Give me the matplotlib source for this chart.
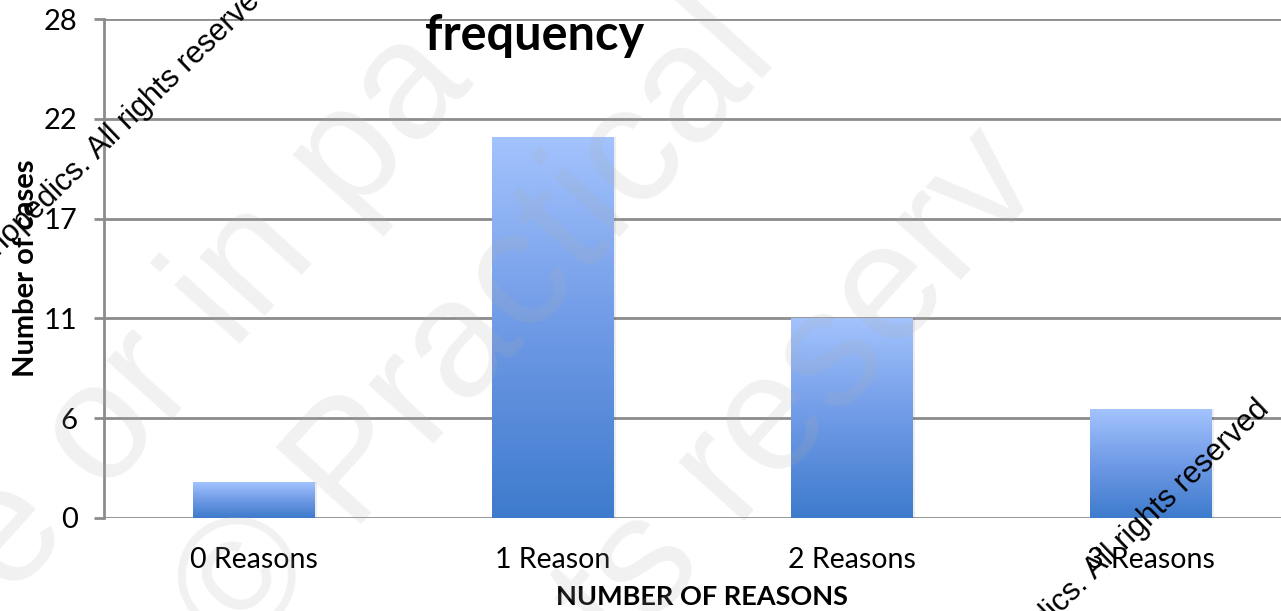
import numpy as np
import matplotlib
matplotlib.use("Agg")
from matplotlib import pyplot as plt
from matplotlib.colors import LinearSegmentedColormap

categories = ["0 Reasons", "1 Reason", "2 Reasons", "3 Reasons"]
cases = [2.0, 21.4, 11.2, 6.1]
y_ticks = [0, 5.6, 11.2, 16.8, 22.4, 28]
y_tick_labels = ["0", "6", "11", "17", "22", "28"]

W, H = 1281, 611
plt.rcParams['font.family'] = ['Lato', 'DejaVu Sans']

fig = plt.figure(figsize=(W / 100, H / 100), dpi=100)
fig.set_facecolor("white")
ax = fig.add_axes([104 / W, 1 - 518 / H, 1196 / W, 499 / H])
ax.set_facecolor("white")

grid_color = "#8c8c8c"
x = np.arange(len(categories))
bars = ax.bar(x, cases, width=0.405, color="none", edgecolor="none", zorder=3)

# vertical gradient inside each bar
cmap = LinearSegmentedColormap.from_list("bar", ["#3e7bcc", "#6f9ae6", "#a3c3fd"])
grad = np.linspace(0, 1, 256).reshape(-1, 1)
for b in bars:
    x0, y0 = b.get_x(), b.get_y()
    w, h = b.get_width(), b.get_height()
    # soft shadow
    ax.bar(x0 + w / 2 + 0.01, h, width=w, bottom=0, color="#000000", alpha=0.07, zorder=2)
    im = ax.imshow(grad, cmap=cmap, origin="lower", aspect="auto",
                   extent=[x0, x0 + w, y0, y0 + h], zorder=3)
    im.set_clip_path(b)

ax.set_xlim(-0.5, 3.5)
ax.set_ylim(0, 28)
ax.set_yticks(y_ticks)
ax.set_yticklabels(y_tick_labels, fontsize=21, color="black")
ax.set_xticks(x)
ax.set_xticklabels(categories, fontsize=20.5, color="black")
ax.tick_params(axis="x", length=0, pad=21)
ax.tick_params(axis="y", length=7, width=2, color=grid_color, pad=12)
ax.yaxis.grid(True, color=grid_color, linewidth=2)
ax.set_axisbelow(True)
for s in ["top", "right", "bottom"]:
    ax.spines[s].set_visible(False)
ax.spines["left"].set_color(grid_color)
ax.spines["left"].set_linewidth(2)

ax.set_xlabel("NUMBER OF REASONS", fontsize=19.5, fontweight="bold")
ax.xaxis.set_label_coords(0.5, -0.134)
ax.set_ylabel("Number of cases", fontsize=21, fontweight="bold")
ax.yaxis.set_label_coords(-0.054, 0.5)

fig.text(535 / W, 1 - 36 / H, "frequency", fontsize=35, fontweight="bold",
         ha="center", va="center")

# faint background watermark
wm = dict(color="#b0b0b0", alpha=0.17, fontsize=120, rotation=48,
          rotation_mode="anchor", ha="left", va="baseline",
          family=["Liberation Sans", "DejaVu Sans"], zorder=10)
fig.text(10 / W, 1 - 600 / H, "e or in pa", **wm)
fig.text(240 / W, 1 - 660 / H, "© Practical", **wm)
fig.text(620 / W, 1 - 660 / H, "ts reserv", **wm)

# black copyright text
cp = dict(color="black", fontsize=22, rotation=44, rotation_mode="anchor",
          va="baseline", family=["Liberation Sans", "DejaVu Sans"], zorder=11)
fig.text(98 / W, 1 - 160 / H, "Practical Orthopedics. ", ha="right", **cp)
fig.text(98 / W, 1 - 160 / H, "All rights reserved", ha="left", **cp)
fig.text(1095 / W, 1 - 580 / H, "Practical Orthopedics. ", ha="right", **cp)
fig.text(1095 / W, 1 - 580 / H, "All rights reserved", ha="left", **cp)

fig.savefig("out.png", dpi=100, facecolor="white")
